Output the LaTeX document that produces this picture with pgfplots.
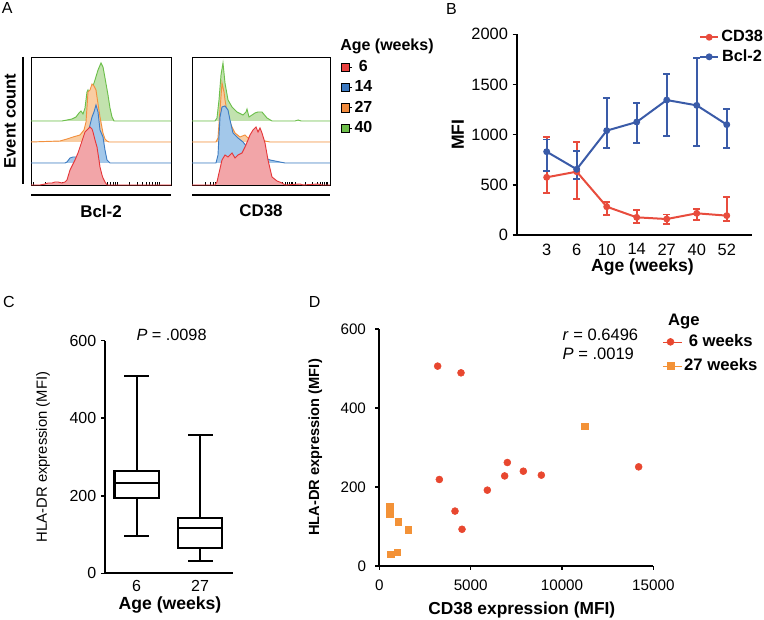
\documentclass[border=0pt]{standalone}
\usepackage{fontspec}
\setmainfont{Liberation Sans}
\usepackage{pgfplots}
\pgfplotsset{compat=1.18}
\definecolor{hgL}{HTML}{6CBF4B}
\definecolor{hgF}{HTML}{C2E2AE}
\definecolor{hoL}{HTML}{F2913F}
\definecolor{hoF}{HTML}{F9CDA2}
\definecolor{hbL}{HTML}{3F7CC1}
\definecolor{hbF}{HTML}{A3C8EA}
\definecolor{hrL}{HTML}{E5383B}
\definecolor{hrF}{HTML}{F2A5A8}
\definecolor{sqR}{HTML}{E8413E}
\definecolor{sqB}{HTML}{3A78C0}
\definecolor{sqO}{HTML}{F08A3C}
\definecolor{sqG}{HTML}{6DBE4A}
\definecolor{bBlue}{HTML}{3A5BA8}
\definecolor{bRed}{HTML}{E84C3D}
\definecolor{dRed}{HTML}{E8472F}
\definecolor{dOrange}{HTML}{F39237}
\newcommand{\lfont}{\fontsize{13.2}{15}\selectfont\bfseries}
\pgfplotsset{
  histo/.style={scale only axis, height=96pt, y dir=reverse, ymin=57, ymax=185,
    ytick=\empty, xticklabels={}, axis line style={line width=0.6pt},
    tick align=inside, major tick length=2.5pt, tick style={line width=0.4pt, black},
    xtick pos=left, clip=false},
  hg/.style={fill=hgF, draw=hgL, line width=0.7pt},
  ho/.style={fill=hoF, draw=hoL, line width=0.7pt},
  hb/.style={fill=hbF, draw=hbL, line width=0.7pt},
  hr/.style={fill=hrF, draw=hrL, line width=0.7pt},
  panel/.style={scale only axis, anchor=south west,
    axis x line*=bottom, axis y line*=left,
    axis line style={line width=1.5pt, -},
    tick align=outside, major tick length=3pt,
    tick style={line width=1.2pt, black},
    /pgf/number format/assume math mode=true,
    /pgf/number format/set thousands separator={},
    scaled ticks=false},
  bx/.style={black, line width=1.6pt, line cap=rect},
  ebar/.style={error bars/.cd, y dir=both, y explicit, error mark=-,
    error bar style={line width=1.3pt},
    error mark options={rotate=90, line width=1.3pt, mark size=2.5pt}},
}
\begin{document}
\begin{tikzpicture}
\path[use as bounding box] (0,0) rectangle (573pt,465pt);
% ---------- Panel A ----------
\node[font=\fontsize{12}{14}\selectfont] at (5.5pt,459pt) {A};
\begin{axis}[histo, at={(23.25pt,326.25pt)}, anchor=south west, width=105pt, xmin=31, xmax=171,
  xtick={33,45.6,53,58.3,62.4,65.7,68.5,70.9,73.1,75,87.6,95,100.3,104.4,107.7,110.5,112.9,115.1,117,129.6,137,142.3,146.4,149.7,152.5,154.9,157.1,159}]
\addplot[hg] coordinates {(31,121) (62,121) (67,120) (72,119) (76,117) (79,113) (81,111) (83,114) (85,108) (87,92) (88,90) (90,97) (92,89) (95,80) (98,70) (101,63) (103,67) (105,78) (108,95) (110,108) (112,117) (114,121) (171,121)};
\addplot[ho] coordinates {(31,142) (60,141) (67,139) (73,137) (80,135) (84,130) (86,122) (88,92) (90,90) (92,84) (94,86) (96,90) (97,97) (100,117) (103,133) (105,139) (107,141) (109,142) (171,142)};
\addplot[hb] coordinates {(31,163) (65,163) (67,162) (70,158) (73,157) (77,157) (80,155) (83,150) (86,143) (88,133) (90,125) (92,117) (94,112) (96,105) (98,112) (100,130) (103,137) (105,150) (107,160) (110,163) (171,163)};
\addplot[hr] coordinates {(31,185) (40,185) (45,184) (48,183) (52,183) (55,182) (58,182) (62,183) (65,182) (67,180) (70,170) (72,166) (75,160) (78,153) (80,147) (83,138) (85,132) (88,129) (90,127) (92,129) (93,132) (95,140) (97,147) (99,160) (100,167) (102,175) (103,178) (105,182) (107,185) (171,185)};
\draw[line width=2.2pt] (axis cs:31,195) -- (axis cs:171,195);
\draw[line width=2.2pt] (axis cs:23,57) -- (axis cs:23,184);
\node[font=\fontsize{12.7}{14}\selectfont\bfseries] at (axis cs:101,211) {Bcl-2};
\node[font=\fontsize{12.4}{14}\selectfont\bfseries, rotate=90] at (axis cs:10,121) {Event count};
\end{axis}
\begin{axis}[histo, at={(144pt,326.25pt)}, anchor=south west, width=103.5pt, xmin=192, xmax=330,
  xtick={205,210,213,215,217,218,219,220,221,222,223,225,235,242,247,250,252,254,255,257,260,270,277,282,285,287,289,291,292,295,305,312,317,320,322,324,326,327},
  legend style={at={(axis description cs:1.075,0.99)}, anchor=north west, draw=none, fill=none,
    font=\fontsize{12}{14}\selectfont\bfseries, row sep=2.4pt, inner sep=0pt,
    nodes={inner sep=1.5pt}},
  legend image code/.code={\path (0cm,0cm) -- (0.3cm,0cm); \fill[#1] (0cm,-0.11cm) rectangle (0.22cm,0.11cm);}]
\addlegendimage{fill=sqR}\addlegendentry{6}
\addlegendimage{fill=sqB}\addlegendentry{14}
\addlegendimage{fill=sqO}\addlegendentry{27}
\addlegendimage{fill=sqG}\addlegendentry{40}
\addplot[hg] coordinates {(192,121) (215,121) (217,118) (219,100) (221,75) (223,63) (225,83) (228,100) (232,107) (237,112) (243,115) (246,112) (247,109) (249,117) (252,115) (255,113) (258,112) (262,112) (267,118) (272,121) (295,121) (298,120) (301,121) (330,121)};
\addplot[ho] coordinates {(192,142) (216,142) (218,138) (220,110) (222,83) (224,92) (225,100) (228,117) (232,127) (235,133) (240,137) (245,135) (248,138) (253,135) (258,138) (265,141) (270,142) (330,142)};
\addplot[hb] coordinates {(192,163) (216,163) (218,155) (220,117) (222,107) (225,106) (228,110) (230,120) (233,133) (238,138) (243,142) (247,147) (248,145) (252,150) (258,155) (265,158) (270,160) (275,161) (285,163) (330,163)};
\addplot[hr] coordinates {(192,185) (215,185) (217,182) (219,173) (222,160) (225,155) (228,157) (232,153) (235,158) (238,155) (242,153) (245,147) (248,140) (250,135) (253,130) (256,127) (258,132) (260,128) (262,133) (265,143) (268,160) (272,177) (277,181) (282,183) (285,185) (300,184) (303,185) (318,184) (322,185) (330,185)};
\draw[line width=2.2pt] (axis cs:192,195) -- (axis cs:330,195);
\node[font=\fontsize{12.7}{14}\selectfont\bfseries] at (axis cs:261,211) {CD38};
\node[font=\fontsize{12}{14}\selectfont\bfseries, anchor=west, inner sep=0pt] at (axis cs:340,46) {Age (weeks)};
\end{axis}
% ---------- Panel B ----------
\node[font=\fontsize{12}{14}\selectfont] at (338.5pt,458pt) {B};
\begin{axis}[panel, at={(387.5pt,288.75pt)}, width=176.25pt, height=150.5pt,
  xmin=-1, xmax=6.83, ymin=0, ymax=2000,
  ticklabel style={font=\fontsize{12.3}{14}\selectfont},
  xtick={0,...,6}, xticklabels={3,6,10,14,27,40,52}, ytick={0,500,1000,1500,2000},
  xtick style={draw=none},
  xlabel={Age (weeks)}, ylabel={MFI},
  xlabel style={font=\lfont, at={(axis description cs:0.535,-0.16)}, anchor=center},
  ylabel style={font=\lfont, at={(axis description cs:-0.25,0.5)}, anchor=center},
  legend style={at={(axis description cs:0.775,1.03)}, anchor=north west, draw=none, fill=none,
    font=\fontsize{12.2}{14}\selectfont\bfseries, row sep=1.5pt, inner sep=0pt, nodes={inner sep=1.5pt}},
  legend image code/.code={\draw[mark repeat=2,mark phase=2,#1] plot coordinates {(0cm,0cm) (0.24cm,0cm) (0.48cm,0cm)};}]
\addplot[color=bRed, line width=1.5pt, mark=*, mark size=1.8pt, ebar]
  coordinates {(0,575) += (0,398) -= (0,153)
               (1,631) += (0,299) -= (0,272)
               (2,282) += (0,44) -= (0,83)
               (3,176) += (0,73) -= (0,53)
               (4,159) += (0,44) -= (0,46)
               (5,216) += (0,43) -= (0,66)
               (6,193) += (0,182) -= (0,53)};
\addlegendentry{CD38}
\addplot[color=bBlue, line width=1.5pt, mark=*, mark size=1.8pt, ebar]
  coordinates {(0,830) += (0,123) -= (0,189)
               (1,655) += (0,185) -= (0,95)
               (2,1040) += (0,322) -= (0,176)
               (3,1126) += (0,190) -= (0,206)
               (4,1345) += (0,260) -= (0,358)
               (5,1292) += (0,475) -= (0,402)
               (6,1100) += (0,159) -= (0,233)};
\addlegendentry{Bcl-2}
\end{axis}
% ---------- Panel C ----------
\node[font=\fontsize{12}{14}\selectfont] at (6.75pt,238.5pt) {C};
\begin{axis}[panel, at={(78.75pt,35pt)}, width=96pt, height=174.5pt,
  xmin=0.5, xmax=2.52, ymin=0, ymax=600, ytick={0,200,400,600},
  ticklabel style={font=\fontsize{12}{14}\selectfont},
  xticklabel style={yshift=1pt},
  xtick={1,2}, xticklabels={6,27}, xtick style={draw=none},
  xlabel={Age (weeks)}, ylabel={HLA-DR expression (MFI)},
  xlabel style={font=\lfont, at={(axis description cs:0.508,-0.136)}, anchor=center},
  ylabel style={font=\fontsize{11.1}{13}\selectfont, at={(axis description cs:-0.484,0.5)}, anchor=center},
  clip=false]
% box 6 weeks
\addplot[bx] coordinates {(0.65,194) (1.35,194) (1.35,264) (0.65,264) (0.65,194)};
\addplot[bx] coordinates {(0.65,232) (1.35,232)};
\addplot[bx] coordinates {(1,264) (1,509)};
\addplot[bx] coordinates {(0.82,509) (1.18,509)};
\addplot[bx] coordinates {(1,194) (1,96)};
\addplot[bx] coordinates {(0.82,96) (1.18,96)};
% box 27 weeks
\addplot[bx] coordinates {(1.65,64.5) (2.35,64.5) (2.35,142) (1.65,142) (1.65,64.5)};
\addplot[bx] coordinates {(1.65,116) (2.35,116)};
\addplot[bx] coordinates {(2,142) (2,356)};
\addplot[bx] coordinates {(1.82,356) (2.18,356)};
\addplot[bx] coordinates {(2,64.5) (2,32)};
\addplot[bx] coordinates {(1.82,32) (2.18,32)};
\node[font=\fontsize{12.2}{14}\selectfont] at (axis description cs:0.52,1.025) {\textit{P} = .0098};
\end{axis}
% ---------- Panel D ----------
\node[font=\fontsize{12}{14}\selectfont] at (236pt,238.5pt) {D};
\begin{axis}[panel, at={(284.5pt,40.5pt)}, width=205.5pt, height=177.75pt,
  xmin=0, xmax=15000, ymin=0, ymax=600, xtick={0,5000,10000,15000}, ytick={0,200,400,600},
  ticklabel style={font=\fontsize{11.4}{13}\selectfont},
  xticklabel style={yshift=-4pt}, yticklabel style={xshift=-3.5pt},
  xlabel={CD38 expression (MFI)}, ylabel={HLA-DR expression (MFI)},
  xlabel style={font=\fontsize{13}{15}\selectfont\bfseries, at={(axis description cs:0.52,-0.186)}, anchor=center},
  ylabel style={font=\fontsize{11}{13}\selectfont\bfseries, at={(axis description cs:-0.234,0.5)}, anchor=center},
  legend style={at={(axis description cs:1.033,0.985)}, anchor=north west, draw=none, fill=none,
    font=\fontsize{12.5}{14}\selectfont\bfseries, row sep=4.5pt, inner sep=0pt, nodes={inner sep=1.5pt}},
  legend image code/.code={\path (0cm,0cm) -- (0.5cm,0cm); \draw[#1] plot coordinates {(0.2cm,0cm)};},
  clip=false]
\addplot[only marks, mark=*, mark size=2.6pt, color=dRed] coordinates {
  (3193,506) (4471,489) (3285,219) (4142,139) (4526,93) (5912,192) (6861,228) (7007,262) (7883,240) (8869,230) (14197,251)};
\addlegendentry{6 weeks}
\addplot[only marks, mark=square*, mark size=2.5pt, color=dOrange] coordinates {
  (586,150) (560,133) (1040,112) (1588,91) (624,30) (985,35) (11241,354)};
\addlegendentry{27 weeks}
\node[font=\fontsize{12.4}{14}\selectfont, anchor=west] at (axis description cs:0.652,0.975) {\textit{r} = 0.6496};
\node[font=\fontsize{12.4}{14}\selectfont, anchor=west] at (axis description cs:0.652,0.895) {\textit{P} = .0019};
\node[font=\fontsize{12.5}{14}\selectfont\bfseries, anchor=west, inner sep=0pt] at (axis description cs:1.053,1.03) {Age};
\end{axis}
\end{tikzpicture}
\end{document}
